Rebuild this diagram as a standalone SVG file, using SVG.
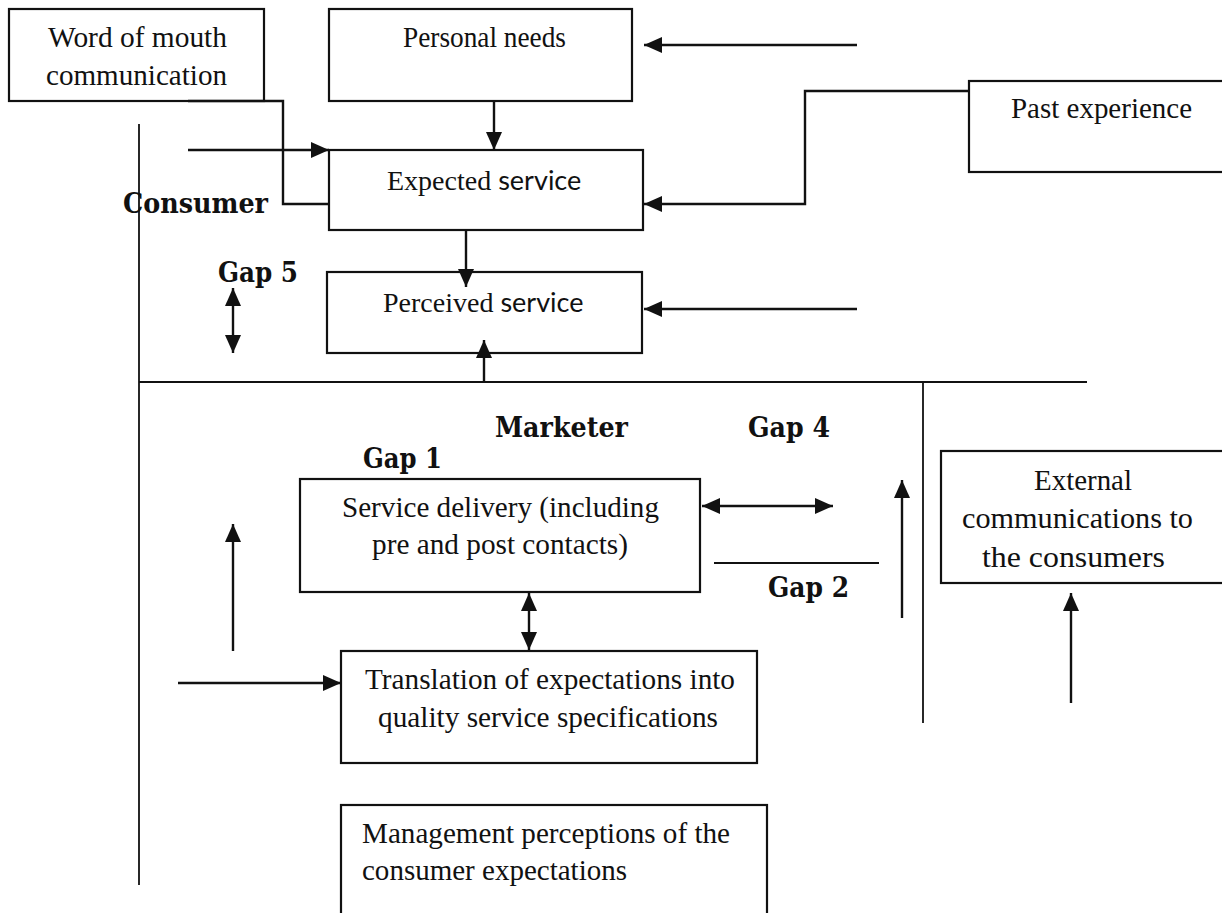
<svg xmlns="http://www.w3.org/2000/svg" width="1222" height="913" viewBox="0 0 1222 913">
<style>
.box{fill:none;stroke:#111;stroke-width:2.2}
.ln{fill:none;stroke:#111;stroke-width:2.4}
.thin{fill:none;stroke:#111;stroke-width:1.8}
.t{font-family:"Liberation Serif","Times New Roman",serif;font-size:30px;fill:#111}
.t2{font-family:"Liberation Serif","Times New Roman",serif;font-size:28px;fill:#111}
.s{font-family:Lato,"Open Sans",sans-serif;font-size:27px}
.b{font-family:"DejaVu Serif",Georgia,serif;font-weight:bold;font-size:27px;fill:#111}
</style>
<defs>
<marker id="ah" viewBox="0 0 18 16" markerWidth="18" markerHeight="16" refX="18" refY="8" orient="auto-start-reverse" markerUnits="userSpaceOnUse">
<path d="M0,0 L18,8 L0,16 z" fill="#111"/>
</marker>
</defs>
<rect width="1222" height="913" fill="#fff"/>

<g id="word-of-mouth">
<rect class="box" x="9" y="9" width="255" height="92"/>
<text class="t"><tspan x="48" y="47" textLength="179" lengthAdjust="spacingAndGlyphs">Word of mouth</tspan><tspan x="46" y="85" textLength="181" lengthAdjust="spacingAndGlyphs">communication</tspan></text>
</g>

<g id="personal-needs">
<rect class="box" x="329" y="9" width="303" height="92"/>
<text class="t" x="403" y="47" textLength="163" lengthAdjust="spacingAndGlyphs">Personal needs</text>
</g>

<g id="past-experience">
<rect class="box" x="969" y="81" width="262" height="91"/>
<text class="t" x="1011" y="118" textLength="181" lengthAdjust="spacingAndGlyphs">Past experience</text>
</g>

<g id="expected-service">
<rect class="box" x="329" y="150" width="314" height="80"/>
<text class="t2" x="387" y="190">Expected <tspan class="s">service</tspan></text>
</g>

<g id="perceived-service">
<rect class="box" x="327" y="272" width="315" height="81"/>
<text class="t2" x="383" y="312">Perceived <tspan class="s">service</tspan></text>
</g>

<g id="service-delivery">
<rect class="box" x="300" y="479" width="400" height="113"/>
<text class="t"><tspan x="342" y="517" textLength="317" lengthAdjust="spacingAndGlyphs">Service delivery (including</tspan><tspan x="372" y="554" textLength="256" lengthAdjust="spacingAndGlyphs">pre and post contacts)</tspan></text>
</g>

<g id="external-communications">
<rect class="box" x="941" y="451" width="290" height="132"/>
<text class="t"><tspan x="1034" y="490" textLength="98" lengthAdjust="spacingAndGlyphs">External</tspan><tspan x="962" y="528" textLength="231" lengthAdjust="spacingAndGlyphs">communications to</tspan><tspan x="982" y="567" textLength="183" lengthAdjust="spacingAndGlyphs">the consumers</tspan></text>
</g>

<g id="translation">
<rect class="box" x="341" y="651" width="416" height="112"/>
<text class="t"><tspan x="365" y="689" textLength="370" lengthAdjust="spacingAndGlyphs">Translation of expectations into</tspan><tspan x="378" y="727" textLength="340" lengthAdjust="spacingAndGlyphs">quality service specifications</tspan></text>
</g>

<g id="management-perceptions">
<rect class="box" x="341" y="805" width="426" height="130"/>
<text class="t"><tspan x="362" y="843" textLength="368" lengthAdjust="spacingAndGlyphs">Management perceptions of the</tspan><tspan x="362" y="880" textLength="265" lengthAdjust="spacingAndGlyphs">consumer expectations</tspan></text>
</g>

<g id="connectors">
<line class="thin" x1="139" y1="124" x2="139" y2="885"/>
<line class="thin" x1="139" y1="382" x2="1087" y2="382"/>
<line class="thin" x1="923" y1="382" x2="923" y2="723"/>
<polyline class="ln" points="188,101 283,101 283,204 329,204"/>
<line class="ln" x1="188" y1="150" x2="329" y2="150" marker-end="url(#ah)"/>
<line class="ln" x1="494" y1="101" x2="494" y2="150" marker-end="url(#ah)"/>
<line class="ln" x1="857" y1="45" x2="644" y2="45" marker-end="url(#ah)"/>
<polyline class="ln" points="969,91 805,91 805,204 644,204" marker-end="url(#ah)"/>
<line class="ln" x1="466" y1="230" x2="466" y2="287" marker-end="url(#ah)"/>
<line class="ln" x1="857" y1="309" x2="644" y2="309" marker-end="url(#ah)"/>
<line class="ln" x1="484" y1="382" x2="484" y2="340" marker-end="url(#ah)"/>
<line class="ln" x1="233" y1="288" x2="233" y2="353" marker-start="url(#ah)" marker-end="url(#ah)"/>
<line class="ln" x1="702" y1="506" x2="833" y2="506" marker-start="url(#ah)" marker-end="url(#ah)"/>
<line class="thin" x1="714" y1="563" x2="879" y2="563"/>
<line class="ln" x1="902" y1="618" x2="902" y2="480" marker-end="url(#ah)"/>
<line class="ln" x1="1071" y1="703" x2="1071" y2="593" marker-end="url(#ah)"/>
<line class="ln" x1="233" y1="651" x2="233" y2="524" marker-end="url(#ah)"/>
<line class="ln" x1="529" y1="593" x2="529" y2="650" marker-start="url(#ah)" marker-end="url(#ah)"/>
<line class="ln" x1="178" y1="683" x2="341" y2="683" marker-end="url(#ah)"/>
</g>

<g id="labels">
<text class="b" x="123" y="213" textLength="145" lengthAdjust="spacingAndGlyphs">Consumer</text>
<text class="b" x="218" y="282" textLength="80" lengthAdjust="spacingAndGlyphs">Gap 5</text>
<text class="b" x="495" y="437" textLength="133" lengthAdjust="spacingAndGlyphs">Marketer</text>
<text class="b" x="363" y="468" textLength="79" lengthAdjust="spacingAndGlyphs">Gap 1</text>
<text class="b" x="748" y="437" textLength="82" lengthAdjust="spacingAndGlyphs">Gap 4</text>
<text class="b" x="768" y="597" textLength="81" lengthAdjust="spacingAndGlyphs">Gap 2</text>
</g>
</svg>
